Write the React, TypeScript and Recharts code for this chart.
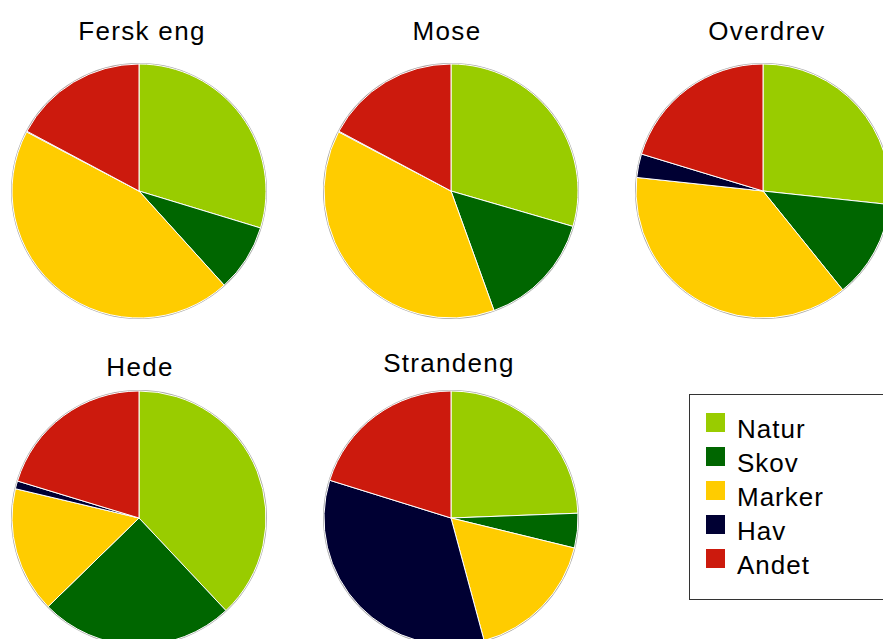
import { PieChart, Pie, Cell } from 'recharts'

const categories = ['Natur', 'Skov', 'Marker', 'Hav', 'Andet']
const colors = ['#99cc00', '#006600', '#ffcc00', '#000033', '#cc1a0d']

// share of each land-use class, per habitat type (percent)
const ferskEng = [29.7, 8.6, 44.4, 0.1, 17.2]
const mose = [29.5, 15.0, 38.2, 0.1, 17.2]
const overdrev = [26.7, 12.5, 37.5, 3.0, 20.3]
const hede = [38.0, 24.7, 16.0, 1.0, 20.3]
const strandeng = [24.4, 4.4, 17.0, 34.0, 20.2]

const habitats = [
  { title: 'Fersk eng', values: ferskEng, cx: 139, cy: 191, tx: 142, ty: 31 },
  { title: 'Mose', values: mose, cx: 451, cy: 191, tx: 447, ty: 31 },
  { title: 'Overdrev', values: overdrev, cx: 763, cy: 191, tx: 767, ty: 31 },
  { title: 'Hede', values: hede, cx: 139, cy: 518, tx: 140, ty: 367 },
  { title: 'Strandeng', values: strandeng, cx: 451, cy: 518, tx: 449, ty: 363 },
]

const R = 127
const font = '"Liberation Sans", Arial, sans-serif'

export default function App() {
  return (
    <div
      style={{
        position: 'absolute',
        left: 0,
        top: 0,
        width: 883,
        height: 639,
        overflow: 'hidden',
        background: '#fff',
        fontFamily: font,
      }}
    >
      <PieChart width={883} height={639} margin={{ top: 0, right: 0, bottom: 0, left: 0 }}>
        {/* thin grey rim under each pie */}
        {habitats.map((h) => (
          <Pie
            key={h.title + '-rim'}
            data={[{ name: 'rim', value: 1 }]}
            dataKey="value"
            cx={h.cx}
            cy={h.cy}
            outerRadius={R + 1}
            startAngle={90}
            endAngle={-270}
            fill="#a8a8a8"
            stroke="none"
            isAnimationActive={false}
          />
        ))}
        {habitats.map((h) => (
          <Pie
            key={h.title}
            data={categories.map((c, i) => ({ name: c, value: h.values[i] }))}
            dataKey="value"
            nameKey="name"
            cx={h.cx}
            cy={h.cy}
            outerRadius={R}
            startAngle={90}
            endAngle={-270}
            stroke="#fff"
            strokeWidth={1}
            isAnimationActive={false}
          >
            {categories.map((c, i) => (
              <Cell key={c} fill={colors[i]} />
            ))}
          </Pie>
        ))}
      </PieChart>

      {habitats.map((h) => (
        <div
          key={h.title + '-title'}
          style={{
            position: 'absolute',
            left: h.tx - 150,
            top: h.ty - 16,
            width: 300,
            textAlign: 'center',
            fontSize: 26,
            letterSpacing: 1.3,
            lineHeight: '32px',
            color: '#000',
          }}
        >
          {h.title}
        </div>
      ))}

      <div
        style={{
          position: 'absolute',
          left: 689,
          top: 394,
          width: 220,
          height: 206,
          border: '1px solid #333',
          boxSizing: 'border-box',
          background: '#fff',
        }}
      >
        {categories.map((c, i) => (
          <div key={c} style={{ position: 'absolute', left: 16, top: 18 + i * 34 }}>
            <div style={{ position: 'absolute', left: 0, top: 0, width: 19, height: 19, background: colors[i] }} />
            <span
              style={{
                position: 'absolute',
                left: 31,
                top: 0,
                fontSize: 26,
                letterSpacing: 1,
                lineHeight: '32px',
                whiteSpace: 'nowrap',
                color: '#000',
              }}
            >
              {c}
            </span>
          </div>
        ))}
      </div>
    </div>
  )
}
